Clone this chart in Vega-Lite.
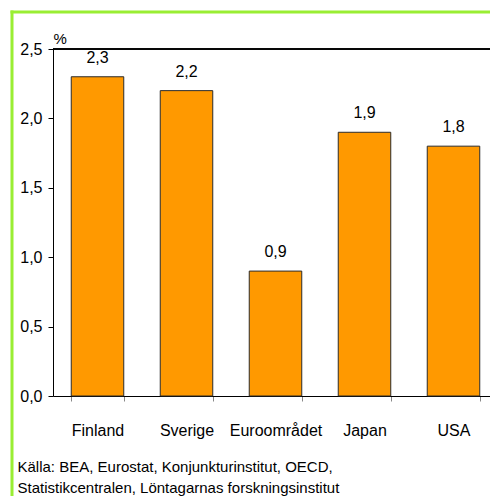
{
  "$schema": "https://vega.github.io/schema/vega-lite/v6.json",
  "width": 437,
  "height": 347,
  "autosize": {"type": "none"},
  "padding": {"left": 53, "top": 49, "right": 0, "bottom": 100},
  "background": "white",
  "config": {
    "view": {"stroke": null},
    "font": "Liberation Sans",
    "locale": {"number": {"decimal": ",", "thousands": " ", "grouping": [3], "currency": ["", " kr"]}}
  },
  "data": {"values": [
    {"land": "Finland", "value": 2.3},
    {"land": "Sverige", "value": 2.2},
    {"land": "Euroområdet", "value": 0.9},
    {"land": "Japan", "value": 1.9},
    {"land": "USA", "value": 1.8}
  ]},
  "layer": [
    {
      "encoding": {
        "x": {"field": "land", "type": "nominal", "sort": null,
          "scale": {"type": "band", "range": [0, 445], "paddingInner": 0.41, "paddingOuter": 0.205},
          "axis": {"orient": "bottom", "labelAngle": 0, "labelFontSize": 16, "labelColor": "#000", "labelPadding": 21,
            "tickSize": 5, "tickColor": "#888", "tickBand": "extent", "domainColor": "#000", "domainWidth": 1,
            "title": ["Källa: BEA, Eurostat, Konjunkturinstitut, OECD,", "Statistikcentralen, Löntagarnas forskningsinstitut"],
            "titleFontSize": 15, "titleFontWeight": "normal", "titleColor": "#000", "titleAnchor": "start", "titleAlign": "left",
            "titleBaseline": "alphabetic", "titleX": -36, "titleY": 75.5, "titleLineHeight": 21}},
        "y": {"field": "value", "type": "quantitative",
          "scale": {"domain": [0, 2.5], "nice": false},
          "axis": {"values": [0, 0.5, 1, 1.5, 2, 2.5], "format": ".1f", "grid": false, "labelFontSize": 16, "labelColor": "#000",
            "labelPadding": 6, "tickSize": 5, "tickColor": "#000", "domainColor": "#000",
            "title": "%", "titleAngle": 0, "titleAlign": "left", "titleBaseline": "alphabetic", "titleX": 0, "titleY": -6,
            "titleFontSize": 15, "titleFontWeight": "normal", "titleColor": "#000"}}
      },
      "layer": [
        {"mark": {"type": "bar", "fill": "#FF9900", "stroke": "#2b2b2b", "strokeWidth": 1}},
        {"mark": {"type": "text", "dy": -14, "baseline": "alphabetic", "fontSize": 16, "color": "#000"},
          "encoding": {"text": {"field": "value", "type": "quantitative", "format": ".1f"}}},
        {"mark": {"type": "rule", "color": "#000", "strokeWidth": 1},
          "encoding": {"x": null, "y": {"datum": 2.5}}}
      ]
    },
    {
      "mark": {"type": "point", "opacity": 0},
      "encoding": {
        "x": {"field": "value", "type": "quantitative",
          "scale": {"domain": [0, 1], "range": [-43, 437], "nice": false, "zero": false},
          "axis": {"orient": "top", "offset": 37.5, "domainColor": "#99EE33", "domainWidth": 3, "ticks": false, "labels": false, "grid": false, "title": null}},
        "y": {"field": "value", "type": "quantitative",
          "scale": {"domain": [0, 1], "range": [447, -39], "nice": false, "zero": false},
          "axis": {"orient": "left", "offset": 41.5, "domainColor": "#99EE33", "domainWidth": 3, "ticks": false, "labels": false, "grid": false, "title": null}}
      }
    }
  ],
  "resolve": {"scale": {"x": "independent", "y": "independent"}, "axis": {"x": "independent", "y": "independent"}}
}
